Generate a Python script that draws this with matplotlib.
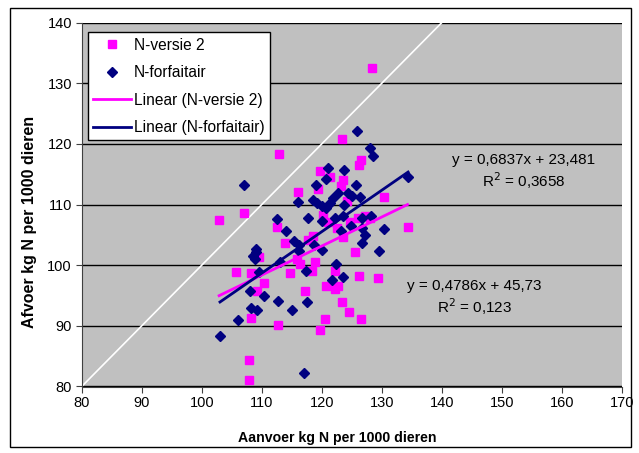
import matplotlib
matplotlib.use("Agg")
import matplotlib.pyplot as plt
from matplotlib.patches import Rectangle
from matplotlib.lines import Line2D
import numpy as np

plt.rcParams['font.family'] = ['Liberation Sans', 'DejaVu Sans']

# N-versie 2 (aanvoer, afvoer)
versie2_x = [112.9, 116.0, 107.0, 102.9, 112.5, 113.9, 109.6, 105.8, 108.2, 110.4,
             109.2, 108.2, 112.7, 107.9, 107.9, 114.8, 117.2, 115.9, 116.4, 125.55,
             118.9, 122.2, 118.4, 126.3, 129.4, 120.8, 122.2, 122.8, 123.4, 124.6,
             120.55, 126.5, 119.8, 123.4, 126.55, 126.3, 119.8, 121.4, 123.6, 123.3,
             119.4, 130.4, 124.3, 120.3, 124.7, 126.1, 127.2, 128.05, 122.5, 121.1,
             134.3, 123.6, 118.6, 117.8, 128.4]
versie2_y = [118.4, 112.0, 108.6, 107.5, 106.3, 103.6, 101.4, 98.9, 98.7, 97.0,
             95.8, 91.25, 90.1, 84.4, 81.1, 98.7, 95.8, 101.1, 100.25, 102.2,
             100.5, 99.1, 99.1, 98.2, 97.9, 96.5, 96.1, 96.5, 94.0, 92.3,
             91.1, 91.1, 89.4, 120.8, 117.3, 116.5, 115.6, 114.6, 114.0, 113.0,
             112.5, 111.25, 110.6, 108.3, 107.2, 107.75, 108.2, 107.75, 106.1, 107.2,
             106.3, 104.7, 104.9, 104.1, 132.6]

# N-forfaitair (aanvoer, afvoer)
forfait_x = [107.1, 116.1, 112.6, 114.05, 117.8, 115.4, 116.2, 109.05, 108.6, 109.05,
             108.9, 109.55, 113.05, 108.05, 110.4, 112.8, 108.3, 109.3, 106.0, 115.0,
             103.05, 117.1, 117.4, 117.5, 116.3, 126.7, 129.55, 120.05, 118.8, 122.4,
             121.7, 123.5, 125.9, 128.05, 128.6, 121.05, 123.8, 120.7, 125.7, 119.0,
             122.8, 124.4, 125.0, 126.4, 134.4, 118.5, 119.2, 120.0, 120.8, 121.4,
             121.9, 123.8, 120.0, 122.3, 123.6, 126.7, 128.2, 124.9, 123.3, 126.7,
             127.2, 130.4]
forfait_y = [113.25, 110.4, 107.6, 105.7, 107.75, 104.0, 103.4, 102.75, 101.6, 102.2,
             101.0, 98.9, 100.6, 95.8, 95.0, 94.1, 93.0, 92.6, 91.0, 92.6,
             88.3, 82.2, 99.0, 93.9, 102.3, 103.6, 102.4, 102.5, 103.4, 100.25,
             97.5, 98.0, 122.1, 119.4, 118.0, 116.1, 115.7, 114.3, 113.2, 113.2,
             111.9, 111.9, 111.4, 111.2, 114.5, 110.8, 110.25, 109.7, 109.4, 110.25,
             111.1, 109.9, 107.3, 107.75, 108.2, 107.75, 108.2, 106.4, 105.6, 106.2,
             105.0, 106.0]

# trendline coefficients (slope, intercept)
versie2_fit = (0.4786, 45.73)
forfait_fit = (0.6837, 23.481)

MAGENTA = "#FF00FF"
NAVY = "#000080"

fig = plt.figure(figsize=(6.39, 4.53), dpi=100)
fig.patch.set_facecolor("white")
fig.patches.append(Rectangle((10 / 639, 1 - 447 / 453), 621 / 639, 439 / 453,
                             transform=fig.transFigure, fill=False,
                             edgecolor="black", linewidth=1.0))

ax = fig.add_axes([81.7 / 639, 1 - 386.5 / 453, 540 / 639, 363.8 / 453])
ax.set_facecolor("#C0C0C0")
ax.set_xlim(80, 170)
ax.set_ylim(80, 140)
ax.set_xticks(np.arange(80, 171, 10))
ax.set_yticks(np.arange(80, 141, 10))
ax.grid(axis="y", color="black", linewidth=1.0)
ax.set_axisbelow(True)
for side in ["top", "right"]:
    ax.spines[side].set_visible(False)
for side in ["left", "bottom"]:
    ax.spines[side].set_color("#404040")
ax.tick_params(direction="out", length=4, labelsize=10.5, color="#404040", pad=3)

# 1:1 line
ax.plot([80, 140], [80, 140], color="white", linewidth=1.2, zorder=2)

ax.plot(versie2_x, versie2_y, linestyle="none", marker="s", markersize=5.8,
        color=MAGENTA, zorder=3)
ax.plot(forfait_x, forfait_y, linestyle="none", marker="D", markersize=5.4,
        color=NAVY, zorder=4)

for xs, (a, b), col in [(versie2_x, versie2_fit, MAGENTA), (forfait_x, forfait_fit, NAVY)]:
    xl = np.array([min(xs), max(xs)])
    ax.plot(xl, a * xl + b, color=col, linewidth=2.0, zorder=5)

ax.set_xlabel("Aanvoer kg N per 1000 dieren", fontsize=10.2, fontweight="bold")
ax.xaxis.set_label_coords((337 - 81.7) / 540, -(438 - 386.5) / 363.8)
ax.xaxis.label.set_va("center")
ax.set_ylabel("Afvoer kg N per 1000 dieren", fontsize=11.5, fontweight="bold")
ax.yaxis.set_label_coords(-(81.7 - 30) / 540, (386.5 - 222) / 363.8)
ax.yaxis.label.set_va("center")

ax.text(153.7, 117.4, "y = 0,6837x + 23,481", ha="center", va="center", fontsize=11)
ax.text(153.7, 113.9, "R$^2$ = 0,3658", ha="center", va="center", fontsize=11)
ax.text(145.5, 96.6, "y = 0,4786x + 45,73", ha="center", va="center", fontsize=11)
ax.text(145.5, 93.2, "R$^2$ = 0,123", ha="center", va="center", fontsize=11)

handles = [
    Line2D([], [], linestyle="none", marker="s", markersize=5.8, color=MAGENTA),
    Line2D([], [], linestyle="none", marker="D", markersize=5.4, color=NAVY),
    Line2D([], [], color=MAGENTA, linewidth=2.0),
    Line2D([], [], color=NAVY, linewidth=2.0),
]
labels = ["N-versie 2", "N-forfaitair", "Linear (N-versie 2)", "Linear (N-forfaitair)"]
leg = ax.legend(handles, labels, loc="upper left", bbox_to_anchor=(6.3 / 540, 1 - 9.5 / 363.8),
                fontsize=11.2, frameon=True, fancybox=False, edgecolor="black",
                framealpha=1, borderaxespad=0, handlelength=2.4, labelspacing=0.8,
                handletextpad=0.2, borderpad=0.35)
leg.get_frame().set_linewidth(1.0)

fig.savefig("out.png", dpi=100)
